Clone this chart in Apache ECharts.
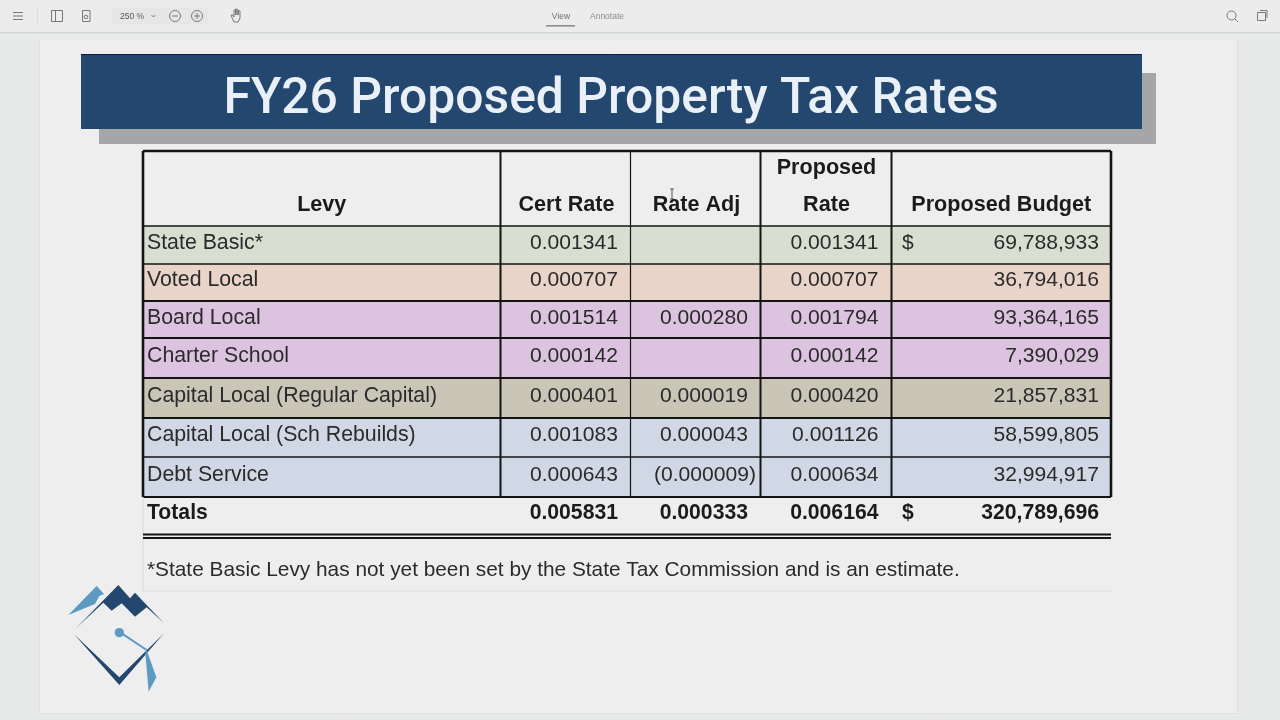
<!DOCTYPE html>
<html>
<head>
<meta charset="utf-8">
<title>FY26 Proposed Property Tax Rates</title>
<style>
html, body { margin: 0; padding: 0; background: #e7e8e8; }
#main { width: 1280px; height: 720px; filter: blur(0.5px); }
</style>
<script src="https://cdn.jsdelivr.net/npm/echarts@6/dist/echarts.min.js"></script>
</head>
<body>
<div id="main"></div>
<script>
// table content
var titleText = 'FY26 Proposed Property Tax Rates';
var headers = ['Levy', 'Cert Rate', 'Rate Adj', 'Proposed\nRate', 'Proposed Budget'];
var levies = ['State Basic*', 'Voted Local', 'Board Local', 'Charter School',
    'Capital Local (Regular Capital)', 'Capital Local (Sch Rebuilds)', 'Debt Service'];
var certRate = [0.001341, 0.000707, 0.001514, 0.000142, 0.000401, 0.001083, 0.000643];
var rateAdj = [null, null, 0.000280, null, 0.000019, 0.000043, -0.000009];
var proposedRate = [0.001341, 0.000707, 0.001794, 0.000142, 0.000420, 0.001126, 0.000634];
var budget = [69788933, 36794016, 93364165, 7390029, 21857831, 58599805, 32994917];
var totals = ['Totals', 0.005831, 0.000333, 0.006164, 320789696];
var footnote = '*State Basic Levy has not yet been set by the State Tax Commission and is an estimate.';

// layout in axis units (axis origin is the table's top left corner)
var colEdges = [0, 357.5, 487.5, 617.5, 748.5, 968];
var rowEdges = [0, 75, 113, 150, 187, 227, 267, 306, 346, 386, 440];
var rightPad = [0, 12.5, 12.5, 13, 12];
var headShift = [0, 1, 1, 0.5, 0];
var rowColors = ['#d9dfd0', '#e8d4c9', '#dcc3df', '#dcc3df', '#c9c6b7', '#cfd8e4', '#cfd8e4'];
var colRuleWidths = [2.6, 2, 1.2, 2, 2, 2.6];
var rowRuleWidths = [2.6, 1.6, 1.3, 2, 2.2, 2, 2.2, 1.3, 2];
var textColor = '#2b2b2b';
var boldColor = '#1b1b1b';

function rate(v) {
    if (v === null) return '';
    return v < 0 ? '(' + Math.abs(v).toFixed(6) + ')' : v.toFixed(6);
}
function money(v) {
    return v.toLocaleString('en-US');
}

// [col, row, text, kind]
var cells = [];
headers.forEach(function (h, c) { cells.push([c, 0, h, 'head']); });
levies.forEach(function (name, i) {
    var r = i + 1;
    cells.push([0, r, name, 'body']);
    cells.push([1, r, rate(certRate[i]), 'body']);
    cells.push([2, r, rate(rateAdj[i]), 'body']);
    cells.push([3, r, rate(proposedRate[i]), 'body']);
    cells.push([4, r, money(budget[i]), 'body']);
});
cells.push([0, 8, totals[0], 'total']);
cells.push([1, 8, rate(totals[1]), 'total']);
cells.push([2, 8, rate(totals[2]), 'total']);
cells.push([3, 8, rate(totals[3]), 'total']);
cells.push([4, 8, money(totals[4]), 'total']);

function renderCell(params, api) {
    var c = api.value(0), r = api.value(1);
    var text = cells[params.dataIndex][2];
    var kind = cells[params.dataIndex][3];
    var p0 = api.coord([colEdges[c], rowEdges[r]]);
    var p1 = api.coord([colEdges[c + 1], rowEdges[r + 1]]);
    var children = [];
    if (kind === 'body') {
        children.push({
            type: 'rect', silent: true,
            shape: { x: p0[0], y: p0[1], width: p1[0] - p0[0], height: p1[1] - p0[1] },
            style: { fill: rowColors[r - 1] }
        });
    }
    var size = kind === 'head' ? 21.6 : (kind === 'total' ? 21.2 : (c === 0 ? 21.3 : 21.1));
    var font = (kind === 'body' ? '' : 'bold ') + size + 'px "Liberation Sans"';
    var style = { text: text, font: font, fill: kind === 'body' ? textColor : boldColor, textVerticalAlign: 'middle' };
    var x, y = (p0[1] + p1[1]) / 2 - 2;
    if (r === 3) y += 1;
    if (kind === 'total') y = p0[1] + 16;
    if (kind === 'head') {
        style.textAlign = 'center';
        style.lineHeight = 37;
        x = (p0[0] + p1[0]) / 2 + headShift[c];
        y = p1[1] - 20.5;
        if (c === 3) y = p1[1] - 39;
    } else if (c === 0) {
        style.textAlign = 'left';
        x = p0[0] + 4;
    } else {
        style.textAlign = 'right';
        x = p1[0] - rightPad[c];
        if (text.charAt(0) === '(') x = p1[0] - 4.5;
    }
    style.x = x;
    style.y = y;
    children.push({ type: 'text', silent: true, style: style });
    // dollar sign sits at the left of the budget column
    if (c === 4 && (r === 1 || kind === 'total')) {
        children.push({
            type: 'text', silent: true,
            style: { text: '$', x: p0[0] + 10.5, y: y, font: font, fill: style.fill, textAlign: 'left', textVerticalAlign: 'middle' }
        });
    }
    return { type: 'group', children: children };
}

// rule lines: [axis, index]
var rules = [];
rowRuleWidths.forEach(function (w, i) { rules.push(['h', i]); });
colRuleWidths.forEach(function (w, i) { rules.push(['v', i]); });

function renderRule(params, api) {
    var item = rules[params.dataIndex];
    var a, b, w;
    if (item[0] === 'h') {
        a = api.coord([0, rowEdges[item[1]]]);
        b = api.coord([968, rowEdges[item[1]]]);
        w = rowRuleWidths[item[1]];
    } else {
        a = api.coord([colEdges[item[1]], 0]);
        b = api.coord([colEdges[item[1]], 346]);
        w = colRuleWidths[item[1]];
    }
    return {
        type: 'line', silent: true,
        shape: { x1: a[0], y1: a[1], x2: b[0], y2: b[1] },
        style: { stroke: '#141414', lineWidth: w }
    };
}

function renderFoot(params, api) {
    var l = api.coord([0, rowEdges[10]]);
    var r = api.coord([968, rowEdges[10]]);
    var d1 = api.coord([0, 383.5]);
    var d2 = api.coord([968, 383.5]);
    var d3 = api.coord([0, 387]);
    var d4 = api.coord([968, 387]);
    var top = api.coord([0, 346]);
    var t = api.coord([4, 419]);
    return {
        type: 'group',
        children: [
            { type: 'line', silent: true, shape: { x1: l[0], y1: l[1], x2: r[0], y2: r[1] }, style: { stroke: '#dcdcdc', lineWidth: 1 } },
            { type: 'line', silent: true, shape: { x1: top[0], y1: top[1], x2: l[0], y2: l[1] }, style: { stroke: '#dcdcdc', lineWidth: 1 } },
            { type: 'line', silent: true, shape: { x1: d1[0], y1: d1[1], x2: d2[0], y2: d2[1] }, style: { stroke: '#141414', lineWidth: 2 } },
            { type: 'line', silent: true, shape: { x1: d3[0], y1: d3[1], x2: d4[0], y2: d4[1] }, style: { stroke: '#141414', lineWidth: 2 } },
            { type: 'text', silent: true, style: { text: footnote, x: t[0], y: t[1], font: '20.84px "Liberation Sans"', fill: textColor, textAlign: 'left', textVerticalAlign: 'middle' } }
        ]
    };
}

var iconStroke = '#77797b';
function iconLine(x1, y1, x2, y2, color, w) {
    return { type: 'line', silent: true, shape: { x1: x1, y1: y1, x2: x2, y2: y2 }, style: { stroke: color || iconStroke, lineWidth: w || 1 } };
}
function box(x, y, w, h, fill) {
    return { type: 'rect', silent: true, shape: { x: x, y: y, width: w, height: h }, style: { fill: fill } };
}
function ring(x, y, r) {
    return { type: 'circle', silent: true, shape: { cx: x, cy: y, r: r }, style: { fill: 'none', stroke: iconStroke, lineWidth: 1 } };
}
function outline(x, y, w, h) {
    return { type: 'rect', silent: true, shape: { x: x, y: y, width: w, height: h }, style: { fill: 'none', stroke: iconStroke, lineWidth: 1 } };
}
function label(text, x, y, color, size) {
    return { type: 'text', silent: true, style: { text: text, x: x, y: y, fill: color, font: size + 'px "Liberation Sans"', textAlign: 'center', textVerticalAlign: 'middle' } };
}
function poly(points, fill) {
    return { type: 'polygon', silent: true, shape: { points: points }, style: { fill: fill } };
}

var chrome = [
    box(0, 0, 1280, 720, '#e7e8e8'),
    box(40, 40, 1198, 673, '#eeeeee'),
    box(0, 33, 1280, 7, '#e9eaea'),
    box(0, 0, 1280, 32, '#ececec'),
    box(0, 32, 1280, 1.5, '#d6d7d7'),
    iconLine(39.5, 40, 39.5, 713, '#dfe0e0'),
    iconLine(1237.5, 40, 1237.5, 713, '#dcdddd'),
    iconLine(40, 713.5, 1238, 713.5, '#dedfdf'),
    // toolbar
    iconLine(13, 12.5, 23, 12.5), iconLine(13, 16, 23, 16), iconLine(13, 19.5, 23, 19.5),
    iconLine(37.5, 8, 37.5, 24, '#dcdcdc'),
    outline(51.5, 10.5, 11, 11), iconLine(55.5, 10.5, 55.5, 21.5),
    outline(82.5, 10.5, 7.5, 11), ring(86, 17, 1.8),
    box(112, 8, 96, 16, '#e6e6e6'),
    label('250 %', 132, 16.5, '#5a5a5a', 8.5),
    iconLine(151.5, 15, 153.5, 17), iconLine(153.5, 17, 155.5, 15),
    ring(175, 16, 5.5), iconLine(172, 16, 178, 16),
    ring(197, 16, 5.5), iconLine(194, 16, 200, 16), iconLine(197, 13, 197, 19),
    {
        type: 'polyline', silent: true,
        shape: { points: [[233, 20], [231, 15], [233, 15], [234, 17], [234, 10], [235.5, 10], [235.5, 15], [235.5, 9], [237, 9], [237, 15], [237, 10], [238.5, 10], [238.5, 15], [238.5, 11], [240, 11], [240, 18], [238, 22], [234, 22], [233, 20]] },
        style: { fill: 'none', stroke: iconStroke, lineWidth: 1 }
    },
    label('View', 561, 16.5, '#6d6f71', 8.5),
    box(546, 25, 29, 1.6, '#8b8d8f'),
    label('Annotate', 607, 16.5, '#8a8c8e', 8.5),
    ring(1231.5, 15.5, 4.5), iconLine(1235, 19, 1238, 22),
    outline(1257.5, 12.5, 8, 8), iconLine(1260, 10.5, 1267, 10.5), iconLine(1267, 10.5, 1267, 18),
    // banner
    box(99, 73, 1057, 71, '#a6a6a8'),
    box(81, 54, 1061, 75, '#24476f'),
    iconLine(81, 54.5, 1142, 54.5, '#0c1c52'),
    // cursor over the Rate Adj header
    iconLine(672, 189, 672, 199, '#555555'), iconLine(670, 189, 674, 189, '#555555'), iconLine(670, 199, 674, 199, '#555555'),
    // logo
    {
        type: 'group', x: 50, y: 570, scaleX: 1 / 3, scaleY: 1 / 3, silent: true,
        children: [
            poly([[55, 135], [140, 48], [162, 72], [148, 78], [135, 102]], '#5b9ac1'),
            poly([[78, 175], [205, 45], [240, 85], [255, 68], [342, 160], [290, 112], [255, 140], [215, 100], [185, 122], [160, 98]], '#24476f'),
            poly([[72, 193], [208, 322], [342, 190], [208, 345]], '#24476f'),
            { type: 'circle', shape: { cx: 208, cy: 188, r: 14 }, style: { fill: '#5b9ac1' } },
            { type: 'line', shape: { x1: 215, y1: 190, x2: 290, y2: 240 }, style: { stroke: '#5b9ac1', lineWidth: 6 } },
            poly([[290, 240], [319, 322], [296, 365], [286, 250]], '#5b9ac1')
        ]
    }
];

var chart = echarts.init(document.getElementById('main'));
chart.setOption({
    animation: false,
    backgroundColor: '#e7e8e8',
    title: {
        text: titleText,
        left: 606,
        top: 71,
        textAlign: 'center',
        textStyle: { color: '#e9f0f7', fontFamily: 'Roboto', fontWeight: 500, fontSize: 49.8 }
    },
    graphic: { elements: chrome.map(function (el) { el.z = -10; return el; }) },
    tooltip: { show: false },
    grid: { left: 143, top: 151, width: 968, height: 440 },
    xAxis: { type: 'value', min: 0, max: 968, show: false },
    yAxis: { type: 'value', min: 0, max: 440, inverse: true, show: false },
    series: [
        { type: 'custom', coordinateSystem: 'cartesian2d', clip: false, renderItem: renderCell, data: cells.map(function (d) { return [d[0], d[1]]; }), z: 2 },
        { type: 'custom', coordinateSystem: 'cartesian2d', clip: false, renderItem: renderRule, data: rules.map(function (d, i) { return [i, 0]; }), z: 3 },
        { type: 'custom', coordinateSystem: 'cartesian2d', clip: false, renderItem: renderFoot, data: [[0, 0]], z: 3 }
    ]
});
</script>
</body>
</html>
